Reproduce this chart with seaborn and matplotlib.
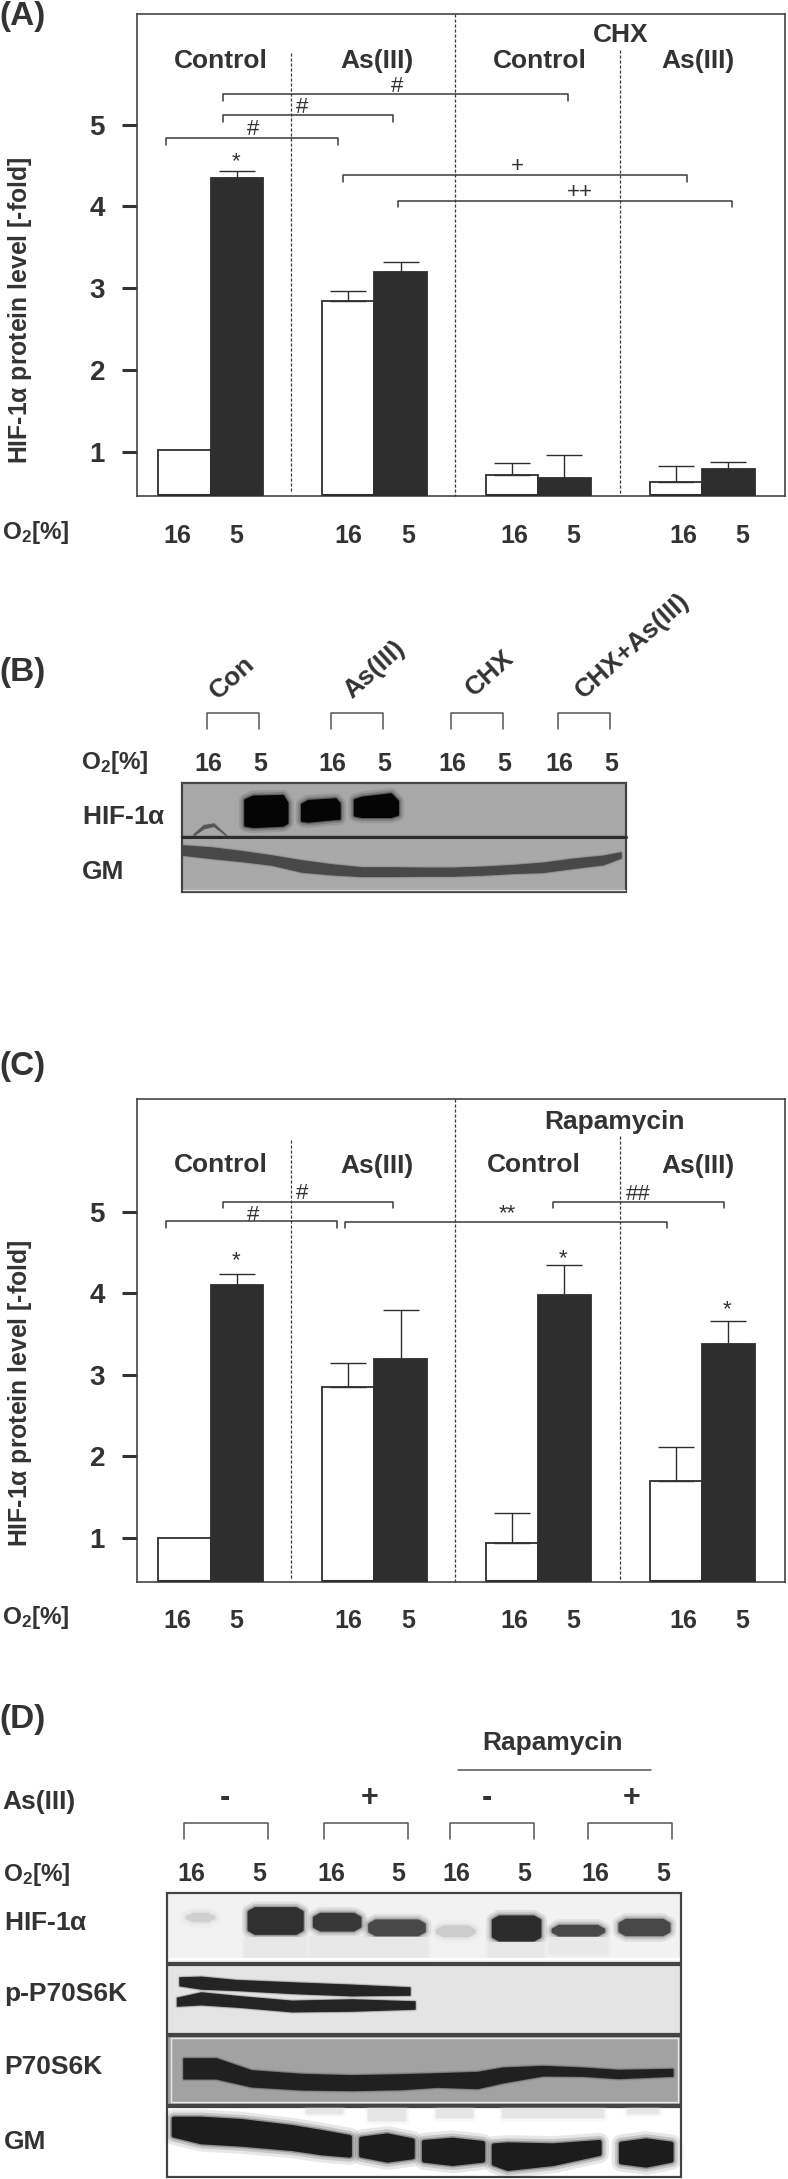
import numpy as np
import pandas as pd
import matplotlib
matplotlib.use("Agg")
import matplotlib.pyplot as plt
from matplotlib.patches import Rectangle
import seaborn as sns

W, H = 788, 2179
SX = 1.99  # escala dos recortes em x
SY = {0: 2.8, 580: 3.0, 1040: 2.613, 1690: 3.0}  # escala dos recortes em y, por painel
INK = "#333333"
FONT = ["Liberation Sans", "DejaVu Sans"]

# dados dos paineis A e C
groups = ["Control", "As(III)", "Drug control", "Drug As(III)"]
o2_levels = ["16", "5"]
a_white = [1.02, 2.84, 0.72, 0.64]
a_black = [4.35, 3.20, 0.68, 0.80]
a_white_top = [np.nan, 2.97, 0.87, 0.83]
a_black_top = [4.43, 3.32, 0.96, 0.88]
c_white = [1.00, 2.85, 0.94, 1.70]
c_black = [4.10, 3.20, 3.98, 3.38]
c_white_top = [np.nan, 3.14, 1.30, 2.12]
c_black_top = [4.24, 3.80, 4.35, 3.66]
y_ticks = [1, 2, 3, 4, 5]

x_labels = ["16", "5", "16", "5", "16", "5", "16", "5"]
x_label_pos = [352, 471, 693, 812, 1023, 1140, 1360, 1478]

# colchetes: x0, x1, y, y da ponta
a_brackets = [(443, 1130, 264, 283), (443, 782, 323, 342), (330, 672, 387, 405),
              (682, 1368, 491, 510), (793, 1457, 563, 580)]
a_marks = [("#", 791, 243), ("#", 601, 300), ("#", 504, 362), ("*", 470, 452),
           ("+", 1030, 467), ("++", 1153, 538)]
c_brackets = [(443, 782, 422, 438), (330, 671, 473, 490), (687, 1328, 475, 490),
              (1101, 1440, 423, 440)]
c_marks = [("#", 601, 400), ("#", 504, 458), ("**", 1010, 453), ("##", 1270, 403),
           ("*", 470, 577), ("*", 1121, 572), ("*", 1447, 705)]

# bandas dos blots: x, topo, base
b_hif_x = [[488, 503, 562, 570], [601, 613, 667, 674], [706, 720, 777, 790]]
b_hif_top = [[660, 650, 648, 668], [673, 663, 658, 670], [660, 653, 643, 663]]
b_hif_bot = [[734, 738, 734, 727], [720, 722, 714, 714], [704, 708, 708, 702]]
b_gm_x = [362, 420, 480, 540, 600, 660, 720, 780, 840, 900, 960, 1020, 1080, 1140, 1200, 1235]
b_gm_mid = [810, 818, 828, 840, 858, 868, 875, 875, 875, 875, 872, 867, 862, 850, 840, 825]
b_gm_half = [14, 16, 15, 14, 17, 15, 13, 13, 12, 12, 12, 12, 14, 14, 13, 8]

d1_x = [(372, 424), (495, 600), (625, 715), (735, 843), (870, 942), (981, 1073), (1100, 1200), (1233, 1330)]
d1_y = [(672, 690), (655, 728), (672, 718), (692, 732), (710, 735), (680, 748), (708, 733), (690, 732)]
d1_grey = ["#d0d0d0", "#303030", "#383838", "#484848", "#cccccc", "#2c2c2c", "#484848", "#484848"]
d1_ghost_x = [(487, 607), (617, 722), (727, 850), (973, 1080), (1092, 1208)]
d1_ghost_y = [(745, 800), (740, 800), (745, 800), (760, 800), (745, 790)]
d2_x = [[357, 400, 470, 580, 700, 815], [352, 400, 480, 580, 700, 825]]
d2_mid = [[874, 878, 885, 893, 900, 903], [935, 925, 935, 948, 945, 945]]
d2_half = [[12, 18, 15, 16, 16, 11], [12, 18, 16, 16, 17, 11]]
d3_x = [365, 430, 500, 600, 700, 800, 870, 950, 1000, 1080, 1160, 1230, 1338]
d3_mid = [1135, 1135, 1165, 1175, 1178, 1175, 1170, 1170, 1155, 1142, 1145, 1152, 1147]
d3_half = [30, 30, 24, 23, 22, 22, 20, 24, 22, 14, 12, 12, 10]
d4_x = [[345, 400, 480, 580, 640, 695], [718, 770, 820], [843, 900, 960], [982, 1010, 1100, 1192], [1235, 1285, 1335]]
d4_top = [[1285, 1285, 1292, 1310, 1325, 1340], [1345, 1335, 1350], [1355, 1348, 1358], [1365, 1362, 1365, 1355], [1360, 1350, 1360]]
d4_bot = [[1335, 1355, 1362, 1375, 1388, 1395], [1395, 1410, 1400], [1410, 1420, 1410], [1420, 1435, 1420, 1390], [1415, 1425, 1410]]
d4_ghost_x = [(610, 680), (735, 805), (870, 940), (1000, 1200), (1250, 1310)]
d4_ghost_y = [(1260, 1270), (1260, 1290), (1260, 1282), (1260, 1282), (1260, 1270)]

sns.set_theme(style="white")
plt.rcParams["font.family"] = FONT
plt.rcParams["mathtext.fontset"] = "stix"
plt.rcParams["mathtext.default"] = "regular"
plt.rcParams["text.color"] = INK

fig = plt.figure(figsize=(W / 100, H / 100), dpi=100, facecolor="white")


def bar_panel(top_px, bottom_px, ymin, ymax, white, black, white_top, black_top, label_y):
    left, right = 137, 785
    ax = fig.add_axes([left / W, 1 - bottom_px / H, (right - left) / W, (bottom_px - top_px) / H])
    df = pd.DataFrame({
        "grupo": groups * 2,
        "O2": [o2_levels[0]] * 4 + [o2_levels[1]] * 4,
        "valor": white + black,
    })
    sns.barplot(data=df, x="grupo", y="valor", hue="O2", order=groups, hue_order=o2_levels,
                palette={"16": "white", "5": "#2e2e2e"}, width=0.64, gap=0, errorbar=None,
                edgecolor="#2e2e2e", linewidth=1.3, legend=False, ax=ax)
    bars = [p for p in ax.patches if p.get_width() > 0]
    tops = white_top + black_top
    vals = white + black
    for p, v, t in zip(bars, vals, tops):
        cx = p.get_x() + p.get_width() / 2
        if not np.isnan(t):
            ax.errorbar(cx, v, yerr=[[0], [t - v]], fmt="none", ecolor="#2e2e2e",
                        elinewidth=1.0, capsize=13, capthick=1.0, zorder=4)
        ax.plot([p.get_x(), p.get_x() + p.get_width()], [ymin + 0.012] * 2,
                color="#2e2e2e", lw=2.2, solid_capstyle="butt", zorder=4)
    ax.set_xlim(-0.449, 3.506)
    ax.set_ylim(ymin, ymax)
    ax.set_xticks([])
    ax.set_xlabel("")
    ax.set_yticks(y_ticks)
    ax.set_yticklabels([str(t) for t in y_ticks], fontsize=20, fontweight="bold", color=INK)
    ax.tick_params(axis="y", left=True, length=11, width=2.2, pad=12, color=INK)
    ax.set_ylabel("HIF-1$\\alpha$ protein level [-fold]", fontsize=17.8, fontweight="bold", color=INK)
    ax.yaxis.set_label_coords((34 - left) / (right - left), (bottom_px - label_y) / (bottom_px - top_px))
    for s in ax.spines.values():
        s.set_color("#444444")
        s.set_linewidth(1.2)
    return ax


ax_a = bar_panel(13.6, 495.7, 0.468, 6.355, a_white, a_black, a_white_top, a_black_top, 310)
ax_c = bar_panel(1099.3, 1581.9, 0.46, 6.38, c_white, c_black, c_white_top, c_black_top, 1393)

# camada por cima, em pixels da figura
ov = fig.add_axes([0, 0, 1, 1], zorder=5)
ov.set_xlim(0, W)
ov.set_ylim(H, 0)
ov.axis("off")


def T(zx, zy, s, off, size=19, weight="bold", ha="center", rot=0, **kw):
    ov.text(zx / SX, off + zy / SY[off], s, fontsize=size, fontweight=weight, ha=ha, va="center",
            rotation=rot, color=INK, **kw)


def line(zxs, zys, off, color="#3a3a3a", lw=1.1, **kw):
    ov.plot(np.array(zxs) / SX, off + np.array(zys) / SY[off], color=color, lw=lw, **kw)


def down_brackets(items, off):
    for x0, x1, y, tip in items:
        line([x0, x0, x1, x1], [tip, y, y, tip], off)


def up_brackets(xs, off, y=398, tip=447):
    for x0, x1 in xs:
        line([x0, x0, x1, x1], [tip, y, y, tip], off, color="#555555")


def box(zx0, zy0, zx1, zy1, off, face, edge="#444444", lw=1.6):
    r = Rectangle((zx0 / SX, off + zy0 / SY[off]), (zx1 - zx0) / SX, (zy1 - zy0) / SY[off],
                  facecolor=face, edgecolor=edge, linewidth=lw, zorder=1)
    ov.add_patch(r)
    return r


def band(xs, top, bot, off, color, clip, blur=3.0):
    xs = np.array(xs) / SX
    t = off + np.array(top) / SY[off]
    b = off + np.array(bot) / SY[off]
    # halo em camadas para imitar o borrado do filme
    for lw, alpha in [(blur * 3.0, 0.10), (blur * 2.0, 0.16), (blur * 1.2, 0.3)]:
        pc = ov.fill_between(xs, t, b, color=color, alpha=alpha, lw=lw, zorder=2, joinstyle="round")
        pc.set_clip_path(clip)
    pc = ov.fill_between(xs, t, b, color=color, lw=blur * 0.7, zorder=3, joinstyle="round")
    pc.set_clip_path(clip)


# Painel A
T(45, 45, "(A)", 0, size=24)
T(1235, 97, "CHX", 0)
for s, x in zip(["Control", "As(III)", "Control", "As(III)"], [440, 750, 1075, 1388]):
    T(x, 170, s, 0)
T(3, 1490, "O$_2$[%]", 0, ha="left", size=17.5)
for s, x in zip(x_labels, x_label_pos):
    T(x, 1500, s, 0, size=18)
line([905, 905], [38, 1388], 0, ls=(0, (2.5, 1.5)), lw=0.9)
line([580, 580], [148, 1378], 0, ls=(0, (2.5, 1.5)), lw=0.9)
line([1234, 1234], [140, 1385], 0, ls=(0, (2.5, 1.5)), lw=0.9)
down_brackets(a_brackets, 0)
for s, x, y in a_marks:
    T(x, y, s, 0, size=16, weight="normal")

# Painel B
OB = 580
T(45, 278, "(B)", OB, size=24)
for s, x, y in [("Con", 462, 292), ("As(III)", 745, 270), ("CHX", 975, 280), ("CHX+As(III)", 1258, 197)]:
    T(x, y, s, OB, rot=42)
up_brackets([(412, 515), (659, 762), (897, 1000), (1110, 1214)], OB)
T(162, 548, "O$_2$[%]", OB, ha="left", size=17.5)
for s, x in zip(x_labels, [414, 517, 662, 765, 900, 1004, 1113, 1216]):
    T(x, 553, s, OB, size=18)
T(163, 710, "HIF-1$\\alpha$", OB, ha="left")
T(163, 875, "GM", OB, ha="left")
clip_b1 = box(362, 608, 1245, 772, OB, "#a8a8a8")
clip_b2 = box(362, 772, 1245, 936, OB, "#a9a9a9")
for xs, t, b in zip(b_hif_x, b_hif_top, b_hif_bot):
    band(xs, t, b, OB, "#050505", clip_b1, blur=3.2)
band([385, 405, 425, 450], [762, 735, 730, 765], [766, 745, 738, 766], OB, "#555555", clip_b1, blur=0.6)
gm_mid, gm_half = np.array(b_gm_mid), np.array(b_gm_half)
band(b_gm_x, gm_mid - gm_half, gm_mid + gm_half, OB, "#484848", clip_b2, blur=1.0)
line([362, 1245], [772, 772], OB, color="#2c2c2c", lw=2.2)
line([364, 1243], [930, 930], OB, color="#dddddd", lw=1.0)

# Painel C
OC = 1040
T(45, 68, "(C)", OC, size=24)
T(1223, 213, "Rapamycin", OC)
for s, x, y in zip(["Control", "As(III)", "Control", "As(III)"], [440, 750, 1062, 1388], [327, 330, 327, 330]):
    T(x, y, s, OC)
T(3, 1510, "O$_2$[%]", OC, ha="left", size=17.5)
for s, x in zip(x_labels, x_label_pos):
    T(x, 1518, s, OC, size=18)
line([905, 905], [155, 1416], OC, ls=(0, (2.5, 1.5)), lw=0.9)
line([580, 580], [260, 1408], OC, ls=(0, (2.5, 1.5)), lw=0.9)
line([1234, 1234], [250, 1412], OC, ls=(0, (2.5, 1.5)), lw=0.9)
down_brackets(c_brackets, OC)
for s, x, y in c_marks:
    T(x, y, s, OC, size=16, weight="normal")

# Painel D
OD = 1690
T(45, 88, "(D)", OD, size=24)
T(1100, 160, "Rapamycin", OD)
line([912, 1296], [241, 241], OD, color="#555555")
T(5, 335, "As(III)", OD, ha="left")
for s, x in zip(["-", "+", "-", "+"], [448, 735, 968, 1257]):
    T(x, 325, s, OD, size=22)
up_brackets([(367, 534), (645, 812), (895, 1063), (1170, 1337)], OD)
T(5, 555, "O$_2$[%]", OD, ha="left", size=17.5)
for s, x in zip(x_labels, [381, 515, 659, 793, 909, 1044, 1184, 1319]):
    T(x, 553, s, OD, size=18)
T(8, 700, "HIF-1$\\alpha$", OD, ha="left")
T(8, 912, "p-P70S6K", OD, ha="left")
T(8, 1130, "P70S6K", OD, ha="left")
T(8, 1355, "GM", OD, ha="left")

clip1 = box(333, 608, 1356, 820, OD, "#f2f2f2")
clip2 = box(333, 824, 1356, 1033, OD, "#e4e4e4")
clip3 = box(333, 1037, 1356, 1246, OD, "#a2a2a2")
clip4 = box(333, 1250, 1356, 1460, OD, "#ffffff")
line([338, 1352], [808, 808], OD, color="#ffffff", lw=1.6, zorder=4)
line([340, 1350, 1350, 340, 340], [1044, 1044, 1236, 1236, 1044], OD, color="#e8e8e8", lw=1.0, zorder=4)

for (x0, x1), (y0, y1) in zip(d1_ghost_x, d1_ghost_y):
    band([x0, x1], [y0, y0], [y1, y1], OD, "#e8e8e8", clip1, blur=2.0)
for (x0, x1), (y0, y1), g in zip(d1_x, d1_y, d1_grey):
    band([x0, x0 + 12, x1 - 12, x1], [y0 + 10, y0, y0, y0 + 10], [y1 - 10, y1, y1, y1 - 10], OD, g, clip1, blur=3.5)
for xs, mid, half in zip(d2_x, d2_mid, d2_half):
    m, h = np.array(mid), np.array(half)
    band(xs, m - h, m + h, OD, "#242424", clip2, blur=1.0)
m3, h3 = np.array(d3_mid), np.array(d3_half)
band(d3_x, m3 - h3, m3 + h3, OD, "#202020", clip3, blur=1.2)
for (x0, x1), (y0, y1) in zip(d4_ghost_x, d4_ghost_y):
    band([x0, x1], [y0, y0], [y1, y1], OD, "#e6e6e6", clip4, blur=2.5)
for xs, t, b in zip(d4_x, d4_top, d4_bot):
    band(xs, t, b, OD, "#1c1c1c", clip4, blur=4.5)

fig.savefig("out.png", dpi=100, facecolor="white")
